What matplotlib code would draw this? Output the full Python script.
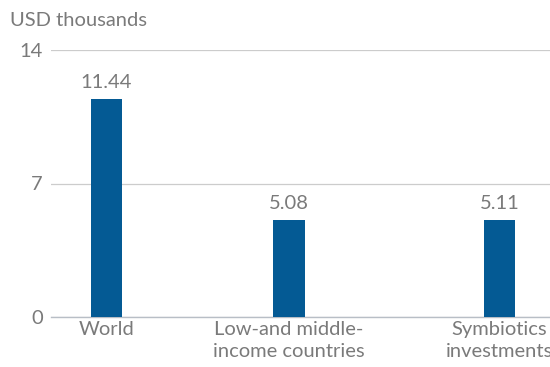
import matplotlib
matplotlib.use("Agg")
import matplotlib.pyplot as plt

categories = ["World", "Low-and middle-\nincome countries", "Symbiotics\ninvestments"]
values = [11.44, 5.08, 5.11]
value_labels = ["11.44", "5.08", "5.11"]
positions = [0, 1, 2.153]
yticks = [0, 7, 14]

bar_color = "#045a94"
text_color = "#7a7a7a"
grid_color = "#cccccc"
fs = 14.5

plt.rcParams["font.family"] = ["Lato", "DejaVu Sans"]

fig = plt.figure(figsize=(5.5, 3.67), dpi=100)
ax = fig.add_axes([51 / 550, 1 - 317 / 367, 1 - 51 / 550, (317 - 50) / 367])

ax.bar(positions, values, width=0.17, color=bar_color, zorder=3)
for x, v, lab in zip(positions, values, value_labels):
    ax.text(x, v + 0.4, lab, ha="center", va="bottom", fontsize=fs, color=text_color)

ax.set_xlim(-0.304, 2.43)
ax.set_ylim(0, 14)
ax.set_yticks(yticks)
ax.set_yticklabels([str(t) for t in yticks])
ax.set_xticks(positions)
ax.set_xticklabels(categories, linespacing=1.35)
ax.tick_params(axis="both", length=0, labelsize=fs, labelcolor=text_color)
ax.tick_params(axis="y", pad=6)
ax.tick_params(axis="x", pad=3)

ax.grid(axis="y", color=grid_color, linewidth=0.9, zorder=0)
for s in ["top", "right", "left"]:
    ax.spines[s].set_visible(False)
ax.spines["bottom"].set_color("#b8bec6")
ax.spines["bottom"].set_linewidth(1.0)

fig.text(10 / 550, 1 - 20 / 367, "USD thousands", ha="left", va="center",
         fontsize=fs, color=text_color)

fig.savefig("out.png", dpi=100)
